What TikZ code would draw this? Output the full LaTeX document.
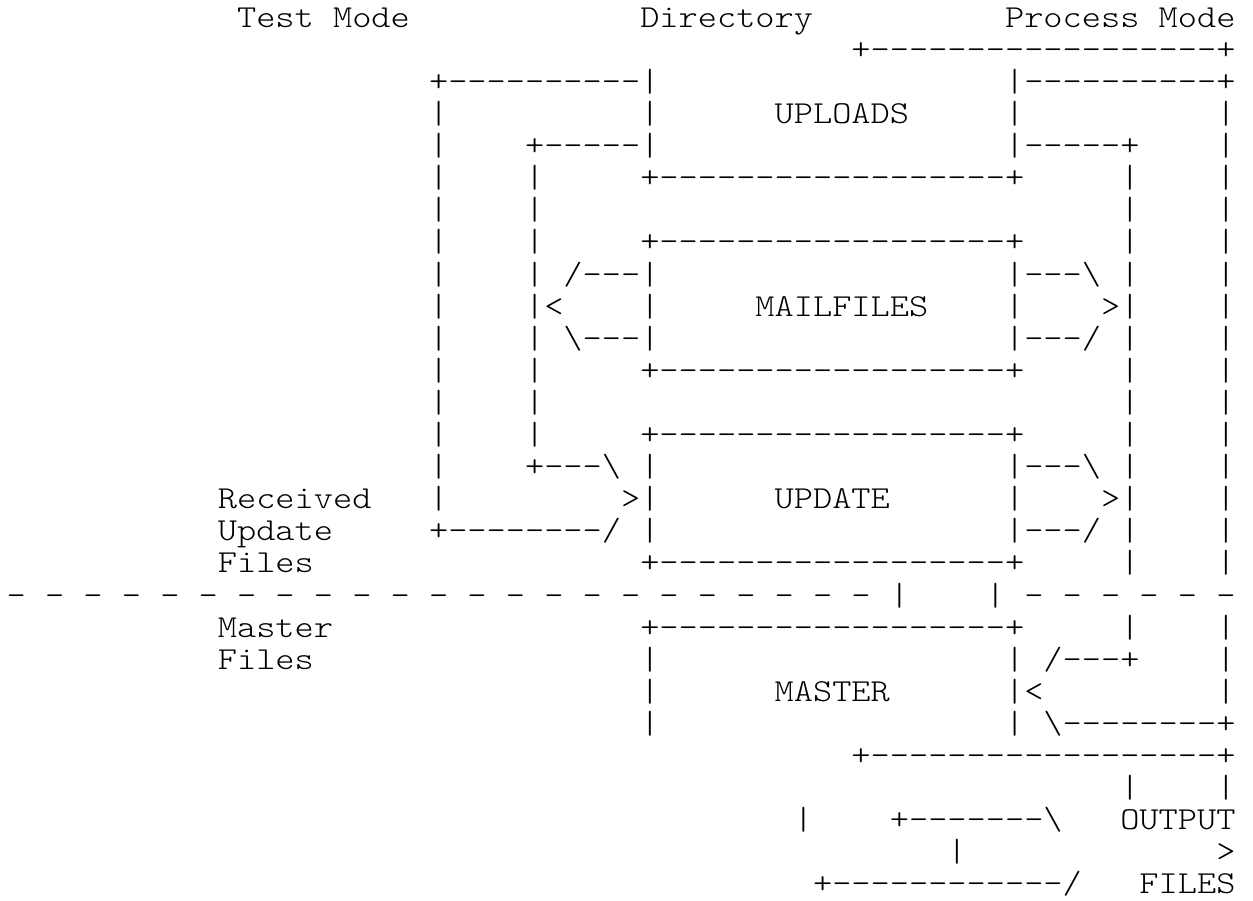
\documentclass[tikz,border=0pt]{standalone}
\usepackage{fontspec}
\setmonofont{lmmonolt10-regular.otf}[FakeStretch=1.142857]
\newlength\charw
\setlength\charw{19.2pt}
\newcommand\gap[1]{\kern#1\charw}
\newcommand\bsl{\textbackslash}
\newcommand\dsp{-\gap{1}}
\begin{document}
\begin{tikzpicture}[x=1pt,y=-1pt,
  ln/.style={anchor=base west, inner sep=0pt, outer sep=0pt,
    font=\ttfamily\fontsize{32}{32}\selectfont, text=black}]
\useasboundingbox (0,0) rectangle (1253,900);
\node[ln] (l1)  at (6.7, 27.2) {\gap{12}Test\gap{1}Mode\gap{12}Directory\gap{10}Process\gap{1}Mode};
\node[ln] (l2)  at (6.7, 59.3) {\gap{44}+------------------+};
\node[ln] (l3)  at (6.7, 91.4) {\gap{22}+----------|\gap{18}|----------+};
\node[ln] (l4)  at (6.7,123.5) {\gap{22}|\gap{10}|\gap{6}UPLOADS\gap{5}|\gap{10}|};
\node[ln] (l5)  at (6.7,155.6) {\gap{22}|\gap{4}+-----|\gap{18}|-----+\gap{4}|};
\node[ln] (l6)  at (6.7,187.7) {\gap{22}|\gap{4}|\gap{5}+------------------+\gap{5}|\gap{4}|};
\node[ln] (l7)  at (6.7,219.8) {\gap{22}|\gap{4}|\gap{30}|\gap{4}|};
\node[ln] (l8)  at (6.7,251.9) {\gap{22}|\gap{4}|\gap{5}+------------------+\gap{5}|\gap{4}|};
\node[ln] (l9)  at (6.7,284.0) {\gap{22}|\gap{4}|\gap{1}/---|\gap{18}|---\bsl\gap{1}|\gap{4}|};
\node[ln] (l10) at (6.7,316.1) {\gap{22}|\gap{4}|<\gap{4}|\gap{5}MAILFILES\gap{4}|\gap{4}>|\gap{4}|};
\node[ln] (l11) at (6.7,348.2) {\gap{22}|\gap{4}|\gap{1}\bsl---|\gap{18}|---/\gap{1}|\gap{4}|};
\node[ln] (l12) at (6.7,380.3) {\gap{22}|\gap{4}|\gap{5}+------------------+\gap{5}|\gap{4}|};
\node[ln] (l13) at (6.7,412.4) {\gap{22}|\gap{4}|\gap{30}|\gap{4}|};
\node[ln] (l14) at (6.7,444.5) {\gap{22}|\gap{4}|\gap{5}+------------------+\gap{5}|\gap{4}|};
\node[ln] (l15) at (6.7,476.6) {\gap{22}|\gap{4}+---\bsl\gap{1}|\gap{18}|---\bsl\gap{1}|\gap{4}|};
\node[ln] (l16) at (6.7,508.7) {\gap{11}Received\gap{3}|\gap{9}>|\gap{6}UPDATE\gap{6}|\gap{4}>|\gap{4}|};
\node[ln] (l17) at (6.7,540.8) {\gap{11}Update\gap{5}+--------/\gap{1}|\gap{18}|---/\gap{1}|\gap{4}|};
\node[ln] (l18) at (6.7,572.9) {\gap{11}Files\gap{17}+------------------+\gap{5}|\gap{4}|};
\node[ln] (l19) at (6.7,605.0) {\dsp\dsp\dsp\dsp\dsp\dsp\dsp\dsp\dsp\dsp\dsp\dsp\dsp\dsp\dsp\dsp\dsp\dsp\dsp\dsp\dsp\dsp-\gap{1}|\gap{4}|\gap{1}\dsp\dsp\dsp\dsp\dsp-};
\node[ln] (l20) at (6.7,637.1) {\gap{11}Master\gap{16}+------------------+\gap{5}|\gap{4}|};
\node[ln] (l21) at (6.7,669.2) {\gap{11}Files\gap{17}|\gap{18}|\gap{1}/---+\gap{4}|};
\node[ln] (l22) at (6.7,701.3) {\gap{33}|\gap{6}MASTER\gap{6}|<\gap{9}|};
\node[ln] (l23) at (6.7,733.4) {\gap{33}|\gap{18}|\gap{1}\bsl--------+};
\node[ln] (l24) at (6.7,765.5) {\gap{44}+------------------+};
\node[ln] (l25) at (6.7,797.6) {\gap{58}|\gap{4}|};
\node[ln] (l26) at (6.7,829.7) {\gap{41}|\gap{4}+-------\bsl\gap{3}OUTPUT};
\node[ln] (l27) at (6.7,861.8) {\gap{49}|\gap{13}>};
\node[ln] (l28) at (6.7,893.9) {\gap{42}+------------/\gap{3}FILES};
\end{tikzpicture}
\end{document}
